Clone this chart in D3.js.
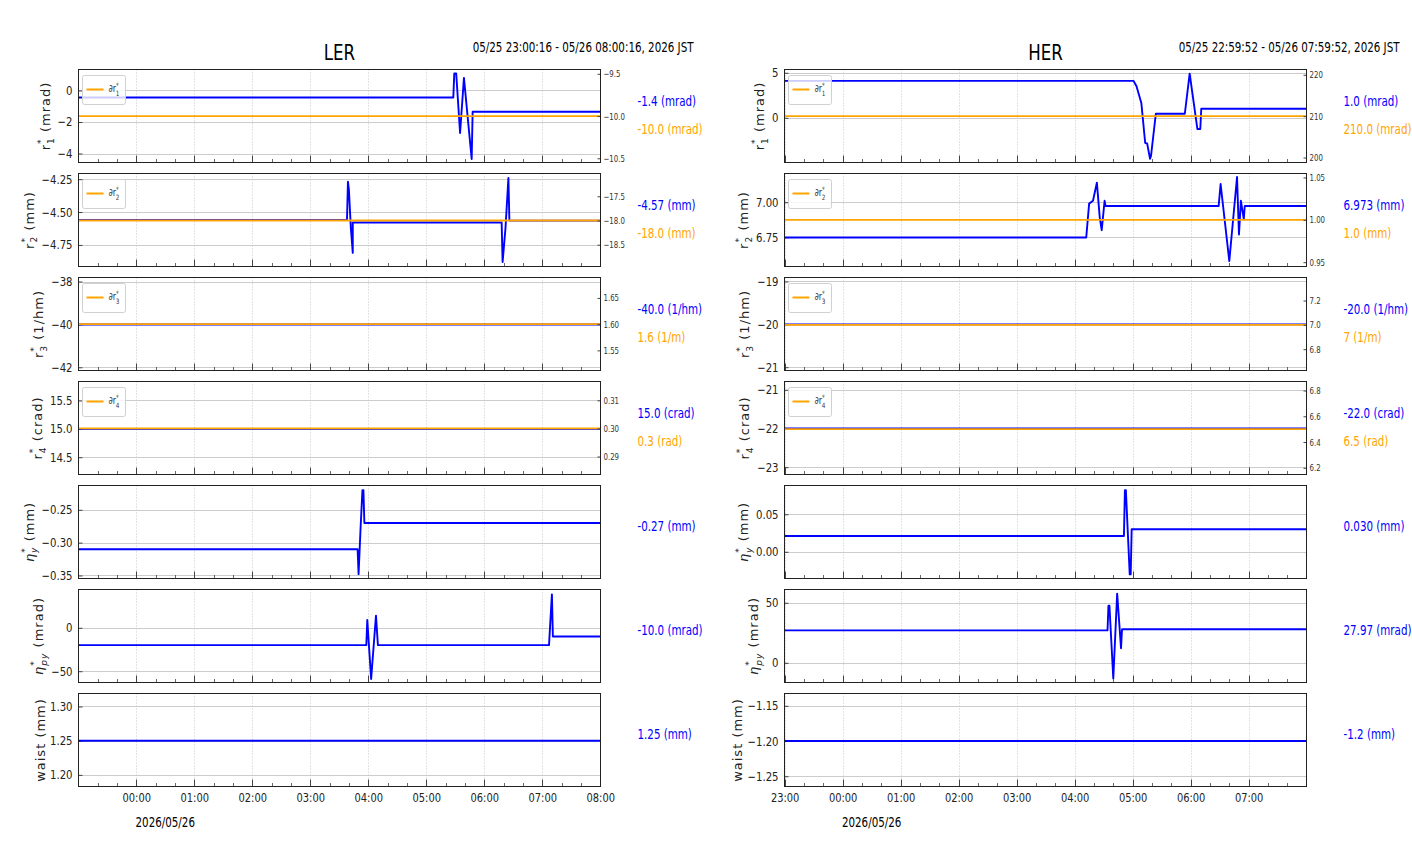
<!DOCTYPE html>
<html>
<head>
<meta charset="utf-8">
<script src="https://cdn.jsdelivr.net/npm/d3@7/dist/d3.min.js"></script>
<style>
  body { margin: 0; background: #fff; }
</style>
</head>
<body>
<div id="chart"></div>
<script>
// ---- data (times are JST, HH:MM) ----
const ringNames = ['LER', 'HER'];
const lerRange = ['2026-05-25 23:00:16', '2026-05-26 08:00:16'];
const herRange = ['2026-05-25 22:59:52', '2026-05-26 07:59:52'];
const rangeLabels = ['05/25 23:00:16 - 05/26 08:00:16, 2026 JST', '05/25 22:59:52 - 05/26 07:59:52, 2026 JST'];
const dateLabel = '2026/05/26';

const lerR1 = [['23:00', -0.45], ['05:28', -0.45], ['05:29', 1.08], ['05:31', 1.08], ['05:35', -2.7], ['05:39', 0.8], ['05:47', -4.35], ['05:48', -1.35], ['08:01', -1.35]];
const lerR2 = [['23:00', -4.56], ['03:38', -4.56], ['03:39', -4.27], ['03:40', -4.33], ['03:42', -4.62], ['03:44', -4.81], ['03:44', -4.58], ['06:18', -4.58], ['06:19', -4.88], ['06:22', -4.62], ['06:25', -4.24], ['06:26', -4.565], ['08:01', -4.565]];
const lerR3 = [['23:00', -40.0], ['08:01', -40.0]];
const lerR4 = [['23:00', 15.0], ['08:01', 15.0]];
const lerEtaY = [['23:00', -0.31], ['03:49', -0.31], ['03:50', -0.348], ['03:52', -0.28], ['03:54', -0.22], ['03:55', -0.22], ['03:56', -0.27], ['08:01', -0.27]];
const lerEtaPy = [['23:00', -20], ['03:58', -20], ['03:59', 9], ['04:03', -59], ['04:08', 14], ['04:10', -20], ['07:07', -20], ['07:10', 38.5], ['07:11', -10], ['08:01', -10]];
const lerWaist = [['23:00', 1.25], ['08:01', 1.25]];
const lerRefs = [-10.0, -18.0, 1.6, 0.3];

const herR1 = [['22:59', 4.1], ['05:01', 4.1], ['05:03', 3.7], ['05:04', 3.5], ['05:09', 1.65], ['05:13', -2.8], ['05:15', -2.85], ['05:18', -4.55], ['05:19', -4.25], ['05:24', 0.45], ['05:54', 0.45], ['05:59', 4.9], ['06:07', -1.25], ['06:10', -1.25], ['06:11', 1.0], ['08:00', 1.0]];
const herR2 = [['22:59', 6.748], ['04:12', 6.748], ['04:15', 6.99], ['04:19', 7.01], ['04:23', 7.14], ['04:26', 6.89], ['04:28', 6.80], ['04:31', 7.01], ['04:32', 6.973], ['06:29', 6.973], ['06:31', 7.13], ['06:40', 6.58], ['06:48', 7.18], ['06:50', 6.77], ['06:52', 7.01], ['06:55', 6.88], ['06:56', 6.973], ['08:00', 6.973]];
const herR3 = [['22:59', -20.0], ['08:00', -20.0]];
const herR4 = [['22:59', -22.0], ['08:00', -22.0]];
const herEtaY = [['22:59', 0.021], ['04:51', 0.021], ['04:52', 0.082], ['04:53', 0.082], ['04:57', -0.030], ['04:58', -0.030], ['04:59', 0.030], ['08:00', 0.030]];
const herEtaPy = [['22:59', 27.0], ['04:34', 27.0], ['04:35', 47.5], ['04:36', 47.5], ['04:40', -13], ['04:44', 57.7], ['04:48', 12.2], ['04:49', 27.97], ['08:00', 27.97]];
const herWaist = [['22:59', -1.2], ['08:00', -1.2]];
const herRefs = [210.0, 1.0, 7.0, 6.5];

const lerLeftDomains = [[-4.57, 1.33], [-4.914, -4.207], [-42.15, -37.81], [14.195, 15.835], [-0.3546, -0.213], [-63, 44.1], [1.183, 1.319]];
const lerLeftTicks = [[0, -2, -4], [-4.25, -4.5, -4.75], [-38, -40, -42], [15.5, 15.0, 14.5], [-0.25, -0.30, -0.35], [0, -50], [1.30, 1.25, 1.20]];
const lerLeftFormats = ['.0f', '.2f', '.0f', '.1f', '.2f', '.0f', '.2f'];
const lerRightDomains = [[-10.55, -9.449], [-18.95, -17.03], [1.5116, 1.689], [0.2836, 0.3167]];
const lerRightTicks = [[-9.5, -10.0, -10.5], [-17.5, -18.0, -18.5], [1.65, 1.60, 1.55], [0.31, 0.30, 0.29]];
const lerRightFormats = ['.1f', '.1f', '.2f', '.2f'];

const herLeftDomains = [[-4.97, 5.37], [6.541, 7.205], [-21.077, -18.907], [-23.19, -20.786], [-0.0355, 0.0882], [-16.4, 61.1], [-1.2646, -1.1325]];
const herLeftTicks = [[5, 0], [7.00, 6.75], [-19, -20, -21], [-21, -22, -23], [0.05, 0.00], [50, 0], [-1.15, -1.20, -1.25]];
const herLeftFormats = ['.0f', '.2f', '.0f', '.0f', '.2f', '.0f', '.2f'];
const herRightDomains = [[198.8, 221.28], [0.9449, 1.0547], [6.625, 7.389], [6.148, 6.87]];
const herRightTicks = [[220, 210, 200], [1.05, 1.00, 0.95], [7.2, 7.0, 6.8], [6.8, 6.6, 6.4, 6.2]];
const herRightFormats = ['.0f', '.2f', '.1f', '.1f'];

const lerBlueLabels = ['-1.4 (mrad)', '-4.57 (mm)', '-40.0 (1/hm)', '15.0 (crad)', '-0.27 (mm)', '-10.0 (mrad)', '1.25 (mm)'];
const lerOrangeLabels = ['-10.0 (mrad)', '-18.0 (mm)', '1.6 (1/m)', '0.3 (rad)'];
const herBlueLabels = ['1.0 (mrad)', '6.973 (mm)', '-20.0 (1/hm)', '-22.0 (crad)', '0.030 (mm)', '27.97 (mrad)', '-1.2 (mm)'];
const herOrangeLabels = ['210.0 (mrad)', '1.0 (mm)', '7 (1/m)', '6.5 (rad)'];

const yLabels = [
  { base: 'r', sub: '1', unit: '(mrad)' },
  { base: 'r', sub: '2', unit: '(mm)' },
  { base: 'r', sub: '3', unit: '(1/hm)' },
  { base: 'r', sub: '4', unit: '(crad)' },
  { base: 'η', sub: 'y', unit: '(mm)', italic: true },
  { base: 'η', sub: 'py', unit: '(mrad)', italic: true },
  { base: 'waist', unit: '(mm)' },
];

// ---- layout ----
const width = 1412;
const height = 864;
const panelLefts = [78.5, 784.5];
const panelWidth = 522;
const panelTop = 69.5;
const panelHeight = 93;
const panelPitch = 104;
const narrow = '"DejaVu Sans Condensed", "DejaVu Sans", sans-serif';
const wide = '"DejaVu Sans", sans-serif';
const blue = '#0000ff';
const orange = '#ffa500';

const parseFull = d3.timeParse('%Y-%m-%d %H:%M:%S');
function toDate(hhmm) {
  const day = +hhmm.slice(0, 2) >= 12 ? '2026-05-25' : '2026-05-26';
  return parseFull(`${day} ${hhmm}:00`);
}

// squeeze text horizontally, the reference uses a narrow face
function condense(sel, k) {
  sel.each(function () {
    const t = d3.select(this);
    const x = +(t.attr('x') || 0);
    t.attr('x', x / k).attr('transform', `scale(${k},1)`);
  });
}

const rings = [
  {
    name: ringNames[0], range: lerRange, rangeLabel: rangeLabels[0],
    series: [lerR1, lerR2, lerR3, lerR4, lerEtaY, lerEtaPy, lerWaist], refs: lerRefs,
    leftDomains: lerLeftDomains, leftTicks: lerLeftTicks, leftFormats: lerLeftFormats,
    rightDomains: lerRightDomains, rightTicks: lerRightTicks, rightFormats: lerRightFormats,
    blueLabels: lerBlueLabels, orangeLabels: lerOrangeLabels,
  },
  {
    name: ringNames[1], range: herRange, rangeLabel: rangeLabels[1],
    series: [herR1, herR2, herR3, herR4, herEtaY, herEtaPy, herWaist], refs: herRefs,
    leftDomains: herLeftDomains, leftTicks: herLeftTicks, leftFormats: herLeftFormats,
    rightDomains: herRightDomains, rightTicks: herRightTicks, rightFormats: herRightFormats,
    blueLabels: herBlueLabels, orangeLabels: herOrangeLabels,
  },
];

const svg = d3.select('#chart').append('svg')
  .attr('width', width)
  .attr('height', height)
  .style('font-family', narrow);

// r_i^* style label: base, stacked superscript * and subscript
function mathText(text, spec, size, spacing) {
  const small = size * 0.7;
  text.append('tspan')
    .style('font-style', spec.italic ? 'italic' : null)
    .text(spec.base);
  if (spec.sub) {
    text.append('tspan').attr('font-size', small).attr('dy', -size * 0.45).text('*');
    text.append('tspan').attr('font-size', small).attr('dx', -small * 0.5 - spacing)
      .attr('dy', size * 0.75)
      .style('font-style', spec.italic ? 'italic' : null)
      .text(spec.sub);
    text.append('tspan').attr('dy', -size * 0.3).text(spec.unit ? `\u00a0${spec.unit}` : '');
  } else if (spec.unit) {
    text.append('tspan').text(`\u00a0${spec.unit}`);
  }
}

rings.forEach((ring, r) => {
  const left = panelLefts[r];
  const right = left + panelWidth;
  const x = d3.scaleTime()
    .domain(ring.range.map((d) => parseFull(d)))
    .range([left, right]);
  const hours = x.ticks(d3.timeHour.every(1));
  const minors = x.ticks(d3.timeMinute.every(20)).filter((d) => d.getMinutes() !== 0);

  // title and time range
  svg.append('text')
    .attr('x', (left + right) / 2)
    .attr('y', 60)
    .attr('text-anchor', 'middle')
    .attr('font-size', 21)
    .text(ring.name)
    .call(condense, 0.88);
  svg.append('text')
    .attr('x', right + 93)
    .attr('y', 52)
    .attr('text-anchor', 'end')
    .attr('font-size', 13.5)
    .text(ring.rangeLabel)
    .call(condense, 0.85);

  ring.series.forEach((data, i) => {
    const top = panelTop + i * panelPitch;
    const bottom = top + panelHeight;
    const y = d3.scaleLinear().domain(ring.leftDomains[i]).range([bottom, top]);
    const g = svg.append('g');
    const clipId = `clip-${r}-${i}`;
    g.append('clipPath').attr('id', clipId)
      .append('rect').attr('x', left).attr('y', top).attr('width', panelWidth).attr('height', panelHeight);

    // grid
    g.append('g').selectAll('line').data(hours).join('line')
      .attr('x1', (d) => Math.round(x(d)) + 0.5).attr('x2', (d) => Math.round(x(d)) + 0.5)
      .attr('y1', top).attr('y2', bottom)
      .attr('stroke', '#b8b8b8').attr('stroke-width', 0.8).attr('stroke-dasharray', '1,2');
    g.append('g').selectAll('line').data(ring.leftTicks[i]).join('line')
      .attr('x1', left).attr('x2', right)
      .attr('y1', (d) => Math.round(y(d)) + 0.5).attr('y2', (d) => Math.round(y(d)) + 0.5)
      .attr('stroke', '#cccccc').attr('stroke-width', 1);

    // inward bottom ticks
    g.append('g').selectAll('line').data(hours).join('line')
      .attr('x1', (d) => Math.round(x(d)) + 0.5).attr('x2', (d) => Math.round(x(d)) + 0.5)
      .attr('y1', bottom).attr('y2', bottom - 7)
      .attr('stroke', '#444').attr('stroke-width', 1);
    g.append('g').selectAll('line').data(minors).join('line')
      .attr('x1', (d) => Math.round(x(d)) + 0.5).attr('x2', (d) => Math.round(x(d)) + 0.5)
      .attr('y1', bottom).attr('y2', bottom - 3.5)
      .attr('stroke', '#444').attr('stroke-width', 0.8);

    // left axis
    const fmt = d3.format(ring.leftFormats[i]);
    const tickK = 0.9;
    const leftAxis = g.append('g')
      .attr('transform', `translate(${left},0)`)
      .call(d3.axisLeft(y).tickValues(ring.leftTicks[i]).tickFormat(fmt).tickSize(-4).tickPadding(6));
    leftAxis.select('.domain').remove();
    leftAxis.selectAll('line').attr('stroke', '#444');
    leftAxis.selectAll('text').attr('font-size', 12.5).attr('font-family', narrow).attr('fill', '#222')
      .call(condense, tickK);
    let tickWidth = 0;
    leftAxis.selectAll('text').each(function () {
      tickWidth = Math.max(tickWidth, this.getComputedTextLength() * tickK);
    });

    // blue series
    const line = d3.line().x((d) => x(toDate(d[0]))).y((d) => y(d[1]));
    const lines = g.append('g').attr('clip-path', `url(#${clipId})`);
    lines.append('path')
      .datum(data)
      .attr('d', line)
      .attr('fill', 'none')
      .attr('stroke', blue)
      .attr('stroke-width', 1.9)
      .attr('stroke-linejoin', 'round');

    const labelX = left + panelWidth + 37;
    if (i < 4) {
      // reference (orange) on twin axis
      const yR = d3.scaleLinear().domain(ring.rightDomains[i]).range([bottom, top]);
      lines.append('path')
        .datum(x.domain().map((t) => [t, ring.refs[i]]))
        .attr('d', d3.line().x((d) => x(d[0])).y((d) => yR(d[1])))
        .attr('fill', 'none')
        .attr('stroke', orange)
        .attr('stroke-width', 1.8);
      const rightAxis = g.append('g')
        .attr('transform', `translate(${right},0)`)
        .call(d3.axisRight(yR).tickValues(ring.rightTicks[i])
          .tickFormat(d3.format(ring.rightFormats[i])).tickSize(-3).tickPadding(3));
      rightAxis.select('.domain').remove();
      rightAxis.selectAll('line').attr('stroke', '#444');
      rightAxis.selectAll('text').attr('font-size', 9.5).attr('font-family', narrow).attr('fill', '#333')
        .call(condense, 0.82);

      // legend
      const lg = g.append('g').attr('transform', `translate(${left + 4},${top + 6})`);
      lg.append('rect')
        .attr('width', 43).attr('height', 29).attr('rx', 2)
        .attr('fill', '#fff').attr('fill-opacity', 0.8)
        .attr('stroke', '#d0d0d0').attr('stroke-width', 1);
      lg.append('line')
        .attr('x1', 4).attr('x2', 21).attr('y1', 14).attr('y2', 14)
        .attr('stroke', orange).attr('stroke-width', 2);
      const lt = lg.append('text').attr('x', 26).attr('y', 17)
        .attr('font-size', 10.5).attr('fill', '#333');
      mathText(lt, { base: '∂r', sub: yLabels[i].sub }, 10.5, 0);
      lt.call(condense, 0.85);

      svg.append('text')
        .attr('x', labelX).attr('y', top + panelHeight * 0.35)
        .attr('dominant-baseline', 'middle')
        .attr('font-size', 13.5).attr('fill', blue)
        .text(ring.blueLabels[i])
        .call(condense, 0.85);
      svg.append('text')
        .attr('x', labelX).attr('y', top + panelHeight * 0.65)
        .attr('dominant-baseline', 'middle')
        .attr('font-size', 13.5).attr('fill', orange)
        .text(ring.orangeLabels[i])
        .call(condense, 0.85);
    } else {
      svg.append('text')
        .attr('x', labelX).attr('y', top + panelHeight * 0.45)
        .attr('dominant-baseline', 'middle')
        .attr('font-size', 13.5).attr('fill', blue)
        .text(ring.blueLabels[i])
        .call(condense, 0.85);
    }

    // frame
    g.append('rect')
      .attr('x', left).attr('y', top).attr('width', panelWidth).attr('height', panelHeight)
      .attr('fill', 'none').attr('stroke', '#222').attr('stroke-width', 1);

    // y label, kept clear of the tick labels (subscripts hang toward them)
    const spec = yLabels[i];
    const lx = left - 6 - tickWidth - 2 - (spec.sub ? 6 : 3.5);
    const yl = svg.append('text')
      .attr('transform', `translate(${lx},${(top + bottom) / 2}) rotate(-90)`)
      .attr('text-anchor', 'middle')
      .attr('font-family', wide)
      .attr('font-size', 13)
      .attr('letter-spacing', 1)
      .attr('fill', '#222');
    mathText(yl, spec, 13, 1);

    // time axis on bottom panel
    if (i === ring.series.length - 1) {
      const xAxis = g.append('g')
        .attr('transform', `translate(0,${bottom})`)
        .call(d3.axisBottom(x).tickValues(hours).tickFormat(d3.timeFormat('%H:%M')).tickSize(0).tickPadding(7));
      xAxis.select('.domain').remove();
      xAxis.selectAll('text').attr('font-size', 12.5).attr('font-family', narrow).attr('fill', '#222')
        .call(condense, 0.88);
      const midnight = hours.find((d) => d.getHours() === 0);
      svg.append('text')
        .attr('x', x(d3.timeMinute.offset(midnight, 30)))
        .attr('y', bottom + 41)
        .attr('text-anchor', 'middle')
        .attr('font-size', 13.5)
        .text(dateLabel)
        .call(condense, 0.85);
    }
  });
});
</script>
</body>
</html>
